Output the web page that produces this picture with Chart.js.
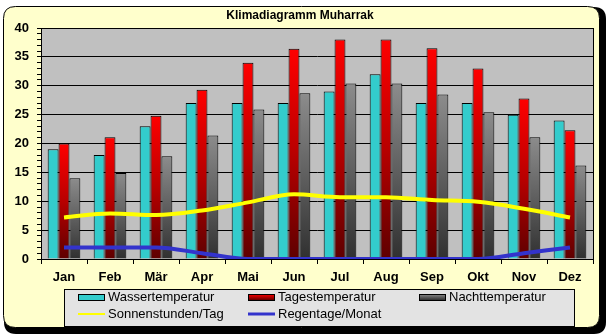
<!DOCTYPE html>
<html>
<head>
<meta charset="utf-8">
<script src="https://cdn.jsdelivr.net/npm/chart.js@4.4.1/dist/chart.umd.min.js"></script>
<style>
  html, body { margin: 0; padding: 0; background: #fff; }
  #wrap { width: 609px; height: 336px; }
</style>
</head>
<body>
<div id="wrap"><canvas id="klima" width="609" height="336"></canvas></div>
<script>
const months = ['Jan', 'Feb', 'Mär', 'Apr', 'Mai', 'Jun', 'Jul', 'Aug', 'Sep', 'Okt', 'Nov', 'Dez']
const wasser = [19, 18, 23, 27, 27, 27, 29, 32, 27, 27, 25, 24]
const tages = [20, 21.1, 24.8, 29.3, 34, 36.4, 38, 38, 36.5, 33, 27.8, 22.3]
const nacht = [14, 14.9, 17.8, 21.4, 25.9, 28.7, 30.4, 30.4, 28.5, 25.4, 21.1, 16.2]
const sonne = [7.2, 7.9, 7.6, 8.4, 9.8, 11.2, 10.7, 10.7, 10.2, 9.9, 8.7, 7.2]
const regen = [2, 2, 2, 1, 0, 0, 0, 0, 0, 0, 1, 2]

const FONT = '"Liberation Sans", Arial, sans-serif'

// vertical gradient per bar, from the bar top down to zero
function barGradient(stops) {
  return ctx => {
    const chart = ctx.chart
    if (!chart.chartArea || ctx.type !== 'data') return stops[0]
    const y = chart.scales.y
    const g = chart.ctx.createLinearGradient(0, y.getPixelForValue(ctx.raw), 0, y.getPixelForValue(0))
    stops.forEach((c, i) => g.addColorStop(i / (stops.length - 1), c))
    return g
  }
}
const redStops = ['#ff0000', '#b80000', '#5e0000']
const grayStops = ['#8c8c8c', '#5f5f5f', '#303030']

function roundRect(c, x, y, w, h, r) {
  c.beginPath()
  c.moveTo(x + r, y)
  c.lineTo(x + w - r, y)
  c.quadraticCurveTo(x + w, y, x + w, y + r)
  c.lineTo(x + w, y + h - r)
  c.quadraticCurveTo(x + w, y + h, x + w - r, y + h)
  c.lineTo(x + r, y + h)
  c.quadraticCurveTo(x, y + h, x, y + h - r)
  c.lineTo(x, y + r)
  c.quadraticCurveTo(x, y, x + r, y)
  c.closePath()
}

const framePlugin = {
  id: 'frame',
  beforeDraw(chart) {
    const c = chart.ctx
    const a = chart.chartArea
    c.save()
    c.fillStyle = '#fff'
    c.fillRect(0, 0, chart.width, chart.height)
    c.fillStyle = '#000'
    roundRect(c, 4, 7, 602, 327, 12)
    c.fill()
    c.fillStyle = '#ffffcc'
    roundRect(c, 3.5, 6.5, 596, 321, 12)
    c.fill()
    c.strokeStyle = '#000'
    c.lineWidth = 1
    c.stroke()
    c.fillStyle = '#c0c0c0'
    c.fillRect(a.left, a.top, a.right - a.left, a.bottom - a.top)
    // title
    c.fillStyle = '#000'
    c.font = 'bold 12px ' + FONT
    c.textAlign = 'center'
    c.textBaseline = 'middle'
    c.fillText('Klimadiagramm Muharrak', 300, 16)
    c.restore()
  },
  afterDraw(chart) {
    const c = chart.ctx
    const a = chart.chartArea
    c.save()
    c.strokeStyle = '#000'
    c.lineWidth = 1
    c.strokeRect(Math.round(a.left) + 0.5, Math.round(a.top) + 0.5, Math.round(a.right - a.left), Math.round(a.bottom - a.top))

    // legend box
    c.fillStyle = '#e3e3e3'
    c.fillRect(64.5, 289.5, 510, 37)
    c.strokeRect(64.5, 289.5, 510, 37)
    const cols = [78, 248, 419]
    const rows = [297, 314]
    c.font = '13px ' + FONT
    c.textAlign = 'left'
    c.textBaseline = 'middle'
    chart.data.datasets.forEach((ds, i) => {
      const x = cols[i % 3]
      const y = rows[Math.floor(i / 3)]
      if (ds.type === 'line') {
        c.strokeStyle = ds.borderColor
        c.lineWidth = ds.legendWidth
        c.beginPath()
        c.moveTo(x, y)
        c.lineTo(x + 27, y)
        c.stroke()
      } else {
        let fill = ds.swatch
        if (Array.isArray(fill)) {
          const g = c.createLinearGradient(0, y - 3, 0, y + 3)
          fill.forEach((col, k) => g.addColorStop(k / (fill.length - 1), col))
          fill = g
        }
        c.fillStyle = fill
        c.fillRect(x + 0.5, y - 2.5, 26, 6)
        c.strokeStyle = '#000'
        c.lineWidth = 1
        c.strokeRect(x + 0.5, y - 2.5, 26, 6)
      }
      c.fillStyle = '#000'
      c.fillText(ds.label, x + 30, y + 0.5)
    })
    c.restore()
  }
}

new Chart(document.getElementById('klima').getContext('2d'), {
  type: 'bar',
  data: {
    labels: months,
    datasets: [
      { label: 'Wassertemperatur', data: wasser, backgroundColor: '#33cccc', swatch: '#33cccc', borderColor: '#000', borderWidth: 1, order: 2 },
      { label: 'Tagestemperatur', data: tages, backgroundColor: barGradient(redStops), swatch: redStops, borderColor: '#000', borderWidth: 1, order: 2 },
      { label: 'Nachttemperatur', data: nacht, backgroundColor: barGradient(grayStops), swatch: grayStops, borderColor: '#000', borderWidth: 1, order: 2 },
      { type: 'line', label: 'Sonnenstunden/Tag', data: sonne, borderColor: '#ffff00', borderWidth: 4, legendWidth: 2, pointRadius: 0, cubicInterpolationMode: 'monotone', order: 1 },
      { type: 'line', label: 'Regentage/Monat', data: regen, borderColor: '#3333cc', borderWidth: 4, legendWidth: 3, pointRadius: 0, cubicInterpolationMode: 'monotone', order: 1 }
    ]
  },
  options: {
    responsive: false,
    animation: false,
    devicePixelRatio: 1,
    datasets: { bar: { categoryPercentage: 0.71, barPercentage: 1 } },
    layout: { padding: { top: 28, right: 16, left: 0, bottom: 0 } },
    plugins: { legend: { display: false }, tooltip: { enabled: false }, title: { display: false } },
    scales: {
      x: {
        offset: true,
        grid: { offset: true, drawOnChartArea: false, drawTicks: true, tickLength: 5, tickColor: '#000' },
        border: { display: true, color: '#000', width: 1 },
        ticks: { color: '#000', font: { family: FONT, size: 13, weight: 'bold' }, padding: 6, maxRotation: 0 },
        afterFit: s => { s.height = 77 }
      },
      y: {
        min: 0,
        max: 40,
        grid: {
          color: ctx => (ctx.tick && ctx.tick.value % 5 === 0) ? '#000' : 'rgba(0,0,0,0)',
          tickColor: '#000',
          tickLength: 4,
          lineWidth: 1
        },
        border: { display: true, color: '#000', width: 1 },
        ticks: {
          stepSize: 1,
          autoSkip: false,
          color: '#000',
          padding: 8,
          font: { family: FONT, size: 13, weight: 'bold' },
          callback: v => (v % 5 === 0 ? v : '')
        },
        afterFit: s => { s.width = 41 }
      }
    }
  },
  plugins: [framePlugin]
})
</script>
</body>
</html>
